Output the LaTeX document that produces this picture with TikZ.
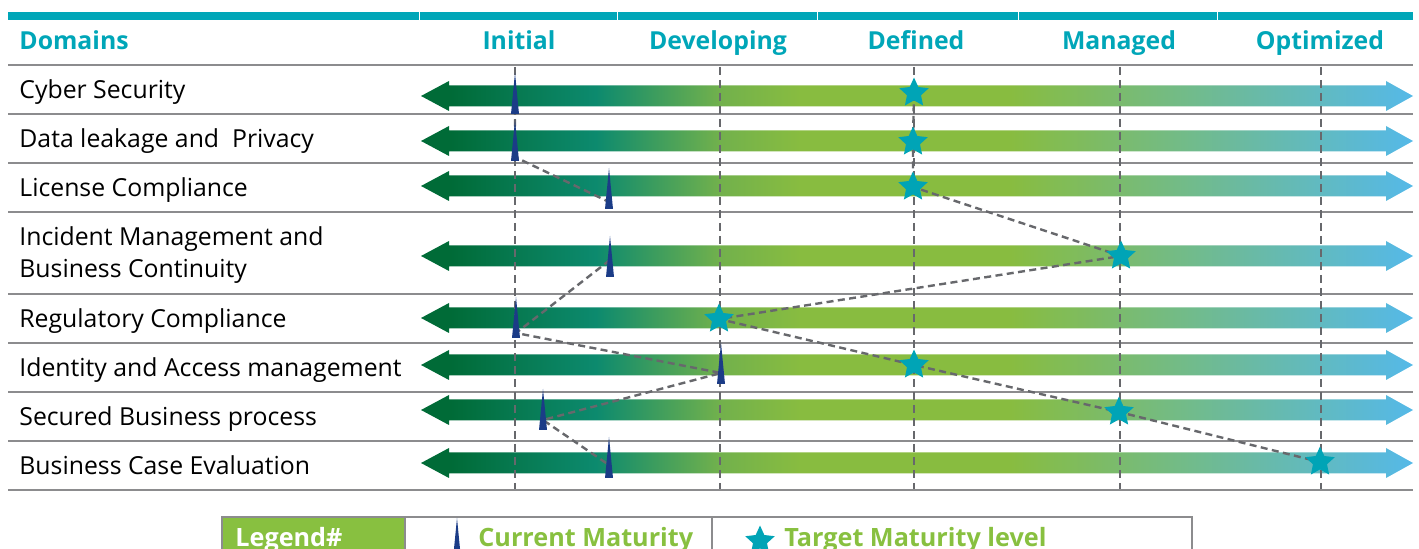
\documentclass[tikz,border=0pt]{standalone}
\usepackage{fontspec}
\setmainfont{Open Sans}
\usetikzlibrary{shapes.geometric}

\definecolor{hdrteal}{HTML}{00A6B8}
\definecolor{darkgrn}{HTML}{006B37}
\definecolor{pinegrn}{HTML}{077A52}
\definecolor{midteal}{HTML}{0C8A6E}
\definecolor{limegrn}{HTML}{72B14C}
\definecolor{leafgrn}{HTML}{88BC40}
\definecolor{skyblue}{HTML}{55B9E8}
\definecolor{navymark}{HTML}{1B3C87}
\definecolor{startl}{HTML}{00A4B6}
\definecolor{rulegray}{HTML}{8C8C8E}
\definecolor{dashgray}{HTML}{67686C}
\definecolor{legendgrn}{HTML}{88C040}

\pgfdeclarehorizontalshading{maturity}{100bp}{color(0bp)=(darkgrn); color(26.5bp)=(darkgrn);
  color(30bp)=(pinegrn); color(33.8bp)=(midteal); color(40.1bp)=(limegrn); color(44.1bp)=(leafgrn);
  color(54.7bp)=(leafgrn); color(75bp)=(skyblue); color(100bp)=(skyblue)}

\begin{document}
\begin{tikzpicture}[
        x=0.5pt, y=-0.5pt, % 1 px of the grid
        domtext/.style = {anchor=base west, inner sep=0, font=\fontsize{12.4}{16}\selectfont},
        hdr/.style = {anchor=base, inner sep=0, text=hdrteal, font=\fontsize{12.4}{14}\selectfont\bfseries},
        rule/.style = {draw=rulegray, line width=1pt},
        level/.style = {draw=dashgray, line width=1pt, dash pattern=on 4pt off 2.5pt},
        trail/.style = {draw=dashgray, line width=1.2pt, dash pattern=on 3.5pt off 2.2pt},
        target/.style = {star, star points=5, star point ratio=2.1, fill=startl, inner sep=0, minimum size=15.5pt}, % target level
        legtxt/.style = {anchor=base west, inner sep=0, text=legendgrn, font=\fontsize{12.6}{14}\selectfont\bfseries},
        spike/.pic = {\fill[navymark] (-4,0) -- (0,-41) -- (4,0) -- cycle;}, % current level
    ]
    \clip (0,0) rectangle (1419,549);

    % header
    \fill[hdrteal] (8,12) rectangle (1413,20);
    \foreach \x in {419,617,817,1018,1217} \draw[white, line width=0.4pt] (\x,12) -- (\x,20);
    \node[hdr, anchor=base west] (hdom) at (19,50) {Domains};
    \node[hdr] (hini) at (519,50) {Initial};
    \node[hdr] (hdev) at (718,50) {Developing};
    \node[hdr] (hdef) at (916,50) {Defined};
    \node[hdr] (hman) at (1119,50) {Managed};
    \node[hdr] (hopt) at (1320,50) {Optimized};

    \foreach \y in {65,114,163,212,294,343,392,441,490} \draw[rule] (8,\y) -- (1413,\y);

    \node[domtext] (dom1) at (19,99) {Cyber Security};
    \node[domtext] (dom2) at (19,148) {Data leakage and \ Privacy};
    \node[domtext] (dom3) at (19,197) {License Compliance};
    \node[domtext, anchor=west, align=left] (dom4) at (19,255) {Incident Management and\\Business Continuity};
    \node[domtext] (dom5) at (19,328) {Regulatory Compliance};
    \node[domtext] (dom6) at (19,377) {Identity and Access management};
    \node[domtext] (dom7) at (19,426) {Secured Business process};
    \node[domtext] (dom8) at (19,475) {Business Case Evaluation};

    % double arrows
    \foreach \c in {96,141,186,256,318,365,410,463}
        \shade[shading=maturity] (421,\c) -- (449,\c-15) -- (449,\c-10.5) -- (1386,\c-10.5) -- (1386,\c-15)
            -- (1413,\c) -- (1386,\c+15) -- (1386,\c+10.5) -- (449,\c+10.5) -- (449,\c+15) -- cycle;

    \foreach \x in {515,720,914,1120,1321} \draw[level] (\x,67) -- (\x,489);

    \coordinate (cur1) at (515,108);
    \coordinate (cur2) at (515,157);
    \coordinate (cur3) at (607,201);
    \coordinate (cur4) at (610,260);
    \coordinate (cur5) at (516,333);
    \coordinate (cur6) at (721,373);
    \coordinate (cur7) at (543,420);
    \coordinate (cur8) at (609,465);
    \coordinate (tgt1) at (914,93);
    \coordinate (tgt2) at (913,142);
    \coordinate (tgt3) at (913,187);
    \coordinate (tgt4) at (1121,256);
    \coordinate (tgt5) at (719,319);
    \coordinate (tgt6) at (914,365);
    \coordinate (tgt7) at (1119,412);
    \coordinate (tgt8) at (1320,462);

    \draw[trail] (cur1) -- (cur2) -- (cur3);
    \draw[trail] (cur4) -- (cur5) -- (cur6) -- (cur7) -- (cur8);
    \draw[trail] (tgt1) -- (tgt2) -- (tgt3) -- (tgt4) -- (tgt5) -- (tgt6) -- (tgt7) -- (tgt8);

    \foreach \x/\b in {515/114,515/161,609/209,610/277,516/338,721/384,543/430,609/478}
        \pic at (\x,\b) {spike};
    \foreach \i in {1,...,8} \node[target] (star\i) at (tgt\i) {};

    % legend
    \draw[rulegray, line width=0.6pt, fill=legendgrn] (222,517) rectangle (405,580);
    \draw[rulegray, line width=0.6pt] (405,517) rectangle (712,580) (712,517) rectangle (1192,580);
    \node[legtxt, text=white] (legkey) at (235,547) {Legend\#};
    \node[legtxt] (legcur) at (478,547) {Current Maturity};
    \node[legtxt] (legtgt) at (784,547) {Target Maturity level};
    \pic at (457,559) {spike};
    \node[target] (legstar) at (760,541) {};
\end{tikzpicture}
\end{document}
